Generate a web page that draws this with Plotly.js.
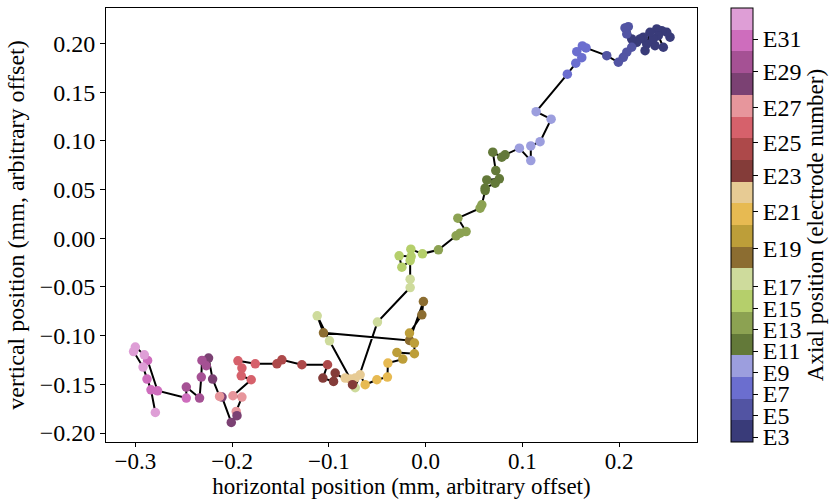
<!DOCTYPE html>
<html>
<head>
<meta charset="utf-8">
<script src="https://cdn.plot.ly/plotly-3.0.1.min.js"></script>
<style>html,body{margin:0;padding:0;background:#fff}#chart{width:829px;height:499px}</style>
</head>
<body>
<div id="chart"></div>
<script>
// horizontal position (mm, arbitrary offset), in path order
const xPos = [
  0.2527, 0.2493, 0.2441, 0.2390, 0.2406, 0.2458, 0.2372, 0.2354, 0.2320, 0.2286, 0.2269, 0.2251, 0.2217, 0.2183, 0.2131,
  0.2096, 0.2062, 0.2080, 0.2131, 0.2080, 0.2044, 0.1993, 0.1873,
  0.1659, 0.1621, 0.1563, 0.1615, 0.1553, 0.1466,
  0.1143, 0.1298, 0.1184, 0.1088, 0.1088, 0.0970,
  0.0822, 0.0788, 0.0695, 0.0726, 0.0763, 0.0633, 0.0719, 0.0616, 0.0616,
  0.0582, 0.0564, 0.0334, 0.0419, 0.0357, 0.0316, 0.0133,
  -0.0032, -0.0152, -0.0149, -0.0273, -0.0245, -0.0159,
  -0.0159, -0.0159, -0.0497, -0.0727, -0.0993, -0.1120,
  -0.1055, -0.0166, -0.0022, -0.0038,
  -0.0166, -0.0115, -0.0115, -0.0296, -0.0235,
  -0.0389, -0.0394, -0.0503, -0.0624,
  -0.0676, -0.0727, -0.0779, -0.0831,
  -0.0755, -0.0934, -0.0951, -0.1061,
  -0.1013, -0.1278, -0.1485, -0.1536,
  -0.1760, -0.1939, -0.1898, -0.1905, -0.1802,
  -0.1991, -0.1898, -0.1957,
  -0.1949, -0.2008, -0.2104, -0.2129, -0.2201, -0.2243,
  -0.2267, -0.2311, -0.2318, -0.2336, -0.2473,
  -0.2473, -0.2770, -0.2873,
  -0.2907, -0.3000, -0.3018, -0.2920,
  -0.2879, -0.2838, -0.2793
];
// vertical position (mm, arbitrary offset)
const yPos = [
  0.2064, 0.2115, 0.2131, 0.2149, 0.2080, 0.1961, 0.1977, 0.2046, 0.2115, 0.1995, 0.1926, 0.2064, 0.2046, 0.2012, 0.2046,
  0.2172, 0.2159, 0.2097, 0.1961, 0.1910, 0.1858, 0.1807, 0.1875,
  0.1954, 0.1974, 0.1916, 0.1854, 0.1797, 0.1684,
  0.1300, 0.1222, 0.0992, 0.0948, 0.0797, 0.0925,
  0.0856, 0.0832, 0.0884, 0.0695, 0.0610, 0.0599, 0.0565, 0.0514, 0.0489,
  0.0343, 0.0309, 0.0206, 0.0069, 0.0052, 0.0025, -0.0119,
  -0.0160, -0.0112, -0.0188, -0.0181, -0.0297, -0.0229,
  -0.0420, -0.0506, -0.0861, -0.1535, -0.1053, -0.0796,
  -0.0971, -0.1050, -0.0650, -0.0786,
  -0.0974, -0.1076, -0.1186, -0.1173, -0.1241,
  -0.1282, -0.1425, -0.1453, -0.1504,
  -0.1402, -0.1436, -0.1446, -0.1436,
  -0.1504, -0.1384, -0.1470, -0.1436,
  -0.1299, -0.1299, -0.1248, -0.1289,
  -0.1289, -0.1258, -0.1333, -0.1412, -0.1453,
  -0.1617, -0.1631, -0.1778,
  -0.1822, -0.1891, -0.1631, -0.1624, -0.1446, -0.1230,
  -0.1309, -0.1255, -0.1425, -0.1641, -0.1528,
  -0.1641, -0.1566, -0.1255,
  -0.1197, -0.1117, -0.1163, -0.1323,
  -0.1446, -0.1556, -0.1789
];
// axial position of each point, in colour-bar units (0 = bottom, 20 = top)
const axialPos = [
  0.5, 0.5, 0.5, 0.5, 0.5, 0.5, 0.5, 0.5, 0.5, 0.5, 0.5, 0.5, 0.5, 0.5, 0.5,
  1.5, 1.5, 1.5, 1.5, 1.5, 1.5, 1.5, 1.5,
  2.5, 2.5, 2.5, 2.5, 2.5, 2.5,
  3.5, 3.5, 3.5, 3.5, 3.5, 3.5,
  4.5, 4.5, 4.5, 4.5, 4.5, 4.5, 4.5, 4.5, 4.5,
  5.5, 5.5, 5.5, 5.5, 5.5, 5.5, 5.5,
  6.5, 6.5, 6.5, 6.5, 6.5, 6.5,
  7.5, 7.5, 7.5, 7.5, 7.5, 7.5,
  8.5, 8.5, 8.5, 8.5,
  9.5, 9.5, 9.5, 9.5, 9.5,
  10.5, 10.5, 10.5, 10.5,
  11.5, 11.5, 11.5, 11.5,
  12.5, 12.5, 12.5, 12.5,
  13.5, 13.5, 13.5, 13.5,
  14.5, 14.5, 14.5, 14.5, 14.5,
  15.5, 15.5, 15.5,
  16.5, 16.5, 16.5, 15.5, 16.5, 16.5,
  17.5, 17.5, 17.5, 17.5, 17.5,
  18.5, 18.5, 18.5,
  19.5, 19.5, 19.5, 19.5,
  18.5, 18.5, 19.5
];
// colour-bar electrode ticks
const electrodeLabels = ['E3','E5','E7','E9','E11','E13','E15','E17','E19','E21','E23','E25','E27','E29','E31'];
const electrodeTickPos = [0.23, 1.22, 2.21, 3.20, 4.19, 5.18, 6.17, 7.16, 8.90, 10.61, 12.26, 13.78, 15.40, 17.07, 18.57];
// tab20b palette
const tab20b = ['#393b79','#5254a3','#6b6ecf','#9c9ede','#637939','#8ca252','#b5cf6b','#cedb9c',
                '#8c6d31','#bd9e39','#e7ba52','#e7cb94','#843c39','#ad494a','#d6616b','#e7969c',
                '#7b4173','#a55194','#ce6dbd','#de9ed6'];

const n = tab20b.length;
const colorscale = [];
tab20b.forEach((c, i) => { colorscale.push([i / n, c]); colorscale.push([(i + 1) / n, c]); });

const FONT = 'Liberation Serif, Times New Roman, serif';

const trace = {
  type: 'scatter',
  mode: 'lines+markers',
  x: xPos,
  y: yPos,
  line: {color: '#000', width: 2},
  marker: {
    size: 9.5,
    color: axialPos,
    colorscale: colorscale,
    cmin: 0,
    cmax: n,
    line: {width: 0},
    showscale: true,
    colorbar: {
      x: 1.0575, xanchor: 'left', xpad: 0,
      y: 1, yanchor: 'top', ypad: 0,
      len: 1, lenmode: 'fraction',
      thickness: 22, thicknessmode: 'pixels',
      outlinewidth: 1, outlinecolor: '#000',
      tickmode: 'array', tickvals: electrodeTickPos, ticktext: electrodeLabels,
      ticks: 'outside', ticklen: 5, tickwidth: 1, tickcolor: '#000',
      tickfont: {family: FONT, size: 24, color: '#000'},
      title: {text: 'Axial position (electrode number)', side: 'right', font: {family: FONT, size: 23, color: '#000'}}
    }
  },
  hoverinfo: 'x+y'
};

const layout = {
  width: 829, height: 499,
  margin: {l: 106, r: 132, t: 8, b: 57, autoexpand: false},
  paper_bgcolor: '#fff', plot_bgcolor: '#fff',
  font: {family: FONT, size: 24, color: '#000'},
  showlegend: false,
  xaxis: {
    range: [-0.3303, 0.2806],
    tickmode: 'linear', tick0: 0, dtick: 0.1, tickformat: '.1f',
    ticks: 'outside', ticklen: 4, tickwidth: 1, tickcolor: '#000',
    ticklabelstandoff: -6,
    showline: true, linecolor: '#000', linewidth: 1, mirror: true,
    showgrid: false, zeroline: false, automargin: false,
    tickfont: {family: FONT, size: 23, color: '#000'},
    title: {text: 'horizontal position (mm, arbitrary offset)', font: {family: FONT, size: 23, color: '#000'}, standoff: 6}
  },
  yaxis: {
    range: [-0.2092, 0.2364],
    tickmode: 'linear', tick0: 0, dtick: 0.05, tickformat: '.2f',
    ticks: 'outside', ticklen: 5, tickwidth: 1, tickcolor: '#000',
    showline: true, linecolor: '#000', linewidth: 1, mirror: true,
    showgrid: false, zeroline: false, automargin: false,
    tickfont: {family: FONT, size: 24, color: '#000'},
    title: {text: 'vertical position (mm, arbitrary offset)', font: {family: FONT, size: 24, color: '#000'}, standoff: 8}
  }
};

Plotly.newPlot('chart', [trace], layout, {displayModeBar: false, staticPlot: true});
</script>
</body>
</html>
